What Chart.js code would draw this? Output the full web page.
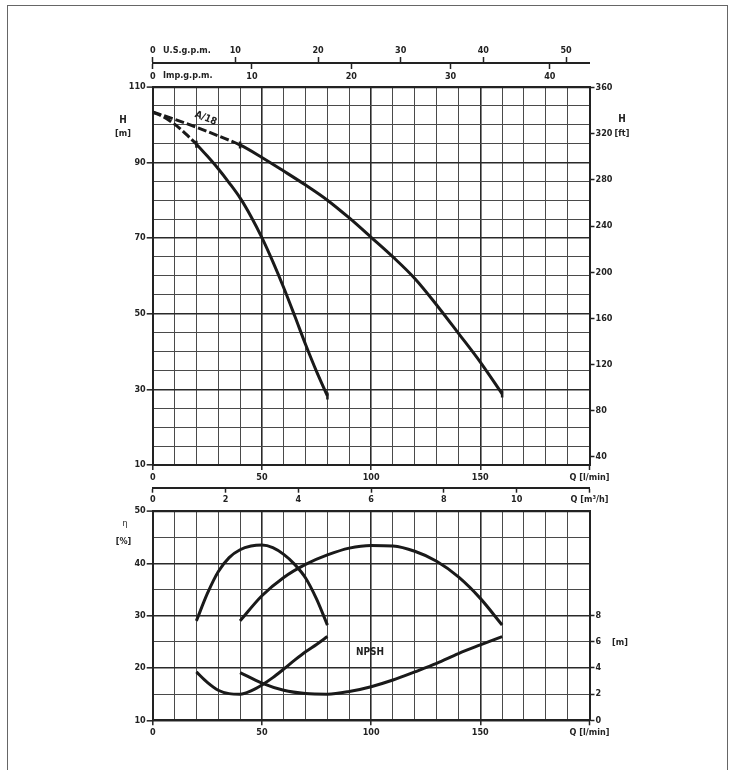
<!DOCTYPE html>
<html><head><meta charset="utf-8">
<script src="https://cdn.jsdelivr.net/npm/chart.js@4.4.1/dist/chart.umd.min.js"></script>
<style>
html,body{margin:0;padding:0;background:#fff;}
#wrap{position:relative;width:735px;height:770px;overflow:hidden;background:#fff;}
canvas{position:absolute;left:0;}
.t{position:absolute;font-family:'Liberation Sans Narrow','DejaVu Sans Condensed','Arial Narrow',sans-serif;font-weight:bold;font-size:9px;color:#222;white-space:nowrap;line-height:1;transform:translate(-50%,-50%);}
.l{transform:translate(0,-50%);}
#frame{position:absolute;left:7px;top:5px;width:721px;height:770px;border:1px solid #666;box-sizing:border-box;}
</style></head>
<body><div id="wrap">
<div id="frame"></div>
<canvas id="cGpm" width="735" height="60" style="top:30px"></canvas>
<canvas id="cH" width="735" height="420" style="top:70px"></canvas>
<canvas id="cM3" width="735" height="40" style="top:470px"></canvas>
<canvas id="cEta" width="735" height="260" style="top:500px"></canvas>
<div class="t l" style="left:163px;top:50px">U.S.g.p.m.</div>
<div class="t l" style="left:163px;top:75px">Imp.g.p.m.</div>
<div class="t" style="left:123px;top:120px;font-size:10px">H</div>
<div class="t" style="left:123px;top:133px">[m]</div>
<div class="t" style="left:622px;top:119px;font-size:10px">H</div>
<div class="t" style="left:622px;top:133px">[ft]</div>
<div class="t" style="left:125px;top:523px;font-weight:normal">η</div>
<div class="t" style="left:123.5px;top:541px">[%]</div>
<div class="t" style="left:620px;top:642px">[m]</div>
<div class="t" style="left:370px;top:652px;font-size:10px">NPSH</div>
<div class="t" style="left:206px;top:118px;font-size:10px;transform:translate(-50%,-50%) rotate(22deg)">A/18</div>
</div>
<script>
// ---------- data ----------
const flowSmallH = [0, 5, 10, 15, 20, 25, 30, 35, 40, 45, 50, 55, 60, 65, 70, 75, 80];
const headSmall  = [103.3, 102.0, 100.1, 97.6, 94.8, 91.65, 88.3, 84.6, 80.6, 75.7, 70.1, 63.75, 56.85, 49.45, 41.85, 34.75, 28.25];
const flowLargeH = [0, 10, 20, 30, 40, 50, 60, 70, 80, 90, 100, 110, 120, 130, 140, 150, 160];
const headLarge  = [103.3, 101.4, 99.3, 97.0, 94.6, 91.3, 87.7, 84.0, 80.0, 75.3, 70.2, 65.0, 59.3, 52.3, 44.8, 37.2, 28.8];

const flowSmallEff = [20, 25, 30, 35, 40, 45, 50, 55, 60, 65, 70, 75, 80];
const effSmall     = [29.0, 34.2, 38.4, 41.1, 42.6, 43.3, 43.5, 43.0, 41.7, 39.8, 37.2, 33.2, 28.2];
const flowLargeEff = [40, 50, 60, 70, 80, 90, 100, 110, 120, 130, 140, 150, 160];
const effLarge     = [29.0, 33.8, 37.3, 39.8, 41.6, 42.9, 43.4, 43.3, 42.3, 40.4, 37.4, 33.3, 28.2];

const flowSmallNpsh = [20, 25, 30, 35, 40, 45, 50, 55, 60, 65, 70, 75, 80];
const npshSmall     = [3.7, 2.9, 2.3, 2.04, 2.0, 2.25, 2.7, 3.26, 3.92, 4.6, 5.24, 5.8, 6.4];
const flowLargeNpsh = [40, 50, 60, 70, 80, 90, 100, 110, 120, 130, 140, 150, 160];
const npshLarge     = [3.65, 2.85, 2.3, 2.05, 2.0, 2.2, 2.57, 3.08, 3.7, 4.35, 5.1, 5.76, 6.4];

const flowLabelTicks = [0, 50, 100, 150];
const headLabelTicks = [10, 30, 50, 70, 90, 110];
const ftTicks        = [40, 80, 120, 160, 200, 240, 280, 320, 360];
const usGpmTicks     = [0, 10, 20, 30, 40, 50];
const impGpmTicks    = [0, 10, 20, 30, 40];
const m3hTicks       = [0, 2, 4, 6, 8, 10, 12];
const effLabelTicks  = [10, 20, 30, 40, 50];
const npshTicks      = [0, 2, 4, 6, 8];

const Q_MAX = 200;
const LPM_PER_USGPM = 3.785;
const LPM_PER_IMPGPM = 4.546;
const LPM_PER_M3H = 1000 / 60;
const FT_PER_M = 3.28084;

// ---------- styling ----------
const FONT = "'Liberation Sans Narrow','DejaVu Sans Condensed','Arial Narrow',sans-serif";
Chart.defaults.font.family = FONT;
Chart.defaults.font.size = 9;
Chart.defaults.font.weight = 'bold';
Chart.defaults.color = '#222';
Chart.defaults.animation = false;

const INK = '#1a1a1a';
const tickFont = {family: FONT, size: 9, weight: 'bold'};
const fixW = w => s => { s.width = w; };
const fixH = h => s => { s.height = h; };
const toXY = (xs, ys) => xs.map((x, i) => ({x: x, y: ys[i]}));
const setTicks = arr => s => { s.ticks = arr.map(v => ({value: v})); };
const tv = ctx => (ctx.tick ? Math.round(ctx.tick.value * 1000) / 1000 : NaN);

const commonPlugins = {legend: {display: false}, tooltip: {enabled: false}};

function curve(xs, ys, yAxisID, dashBelow, markAt) {
  const last = xs.length - 1;
  return {
    data: toXY(xs, ys),
    yAxisID: yAxisID,
    showLine: true,
    borderColor: INK,
    borderWidth: 3,
    cubicInterpolationMode: 'monotone',
    segment: dashBelow ? {borderDash: c => (c.p1.parsed.x <= dashBelow + 0.001 ? [9, 3] : undefined)} : {},
    pointStyle: 'line',
    rotation: 90,
    pointBorderColor: INK,
    pointBorderWidth: 2.5,
    pointRadius: c => (markAt !== null && (c.dataIndex === last || xs[c.dataIndex] === markAt)) ? 3.5 : 0,
    pointHoverRadius: 0
  };
}

function flowAxis() {
  return {
    type: 'linear', position: 'bottom', min: 0, max: Q_MAX,
    ticks: {stepSize: 10, autoSkip: false, maxRotation: 0, padding: 2, font: tickFont,
      callback: v => (v === Q_MAX ? 'Q [l/min]' : (flowLabelTicks.includes(v) ? String(v) : ''))},
    grid: {
      color: c => (flowLabelTicks.includes(tv(c)) ? '#2a2a2a' : '#4a4a4a'),
      lineWidth: c => (flowLabelTicks.includes(tv(c)) ? 1.6 : 1),
      tickColor: c => ((flowLabelTicks.includes(tv(c)) || tv(c) === Q_MAX) ? '#222' : 'rgba(0,0,0,0)'),
      tickLength: 5, tickWidth: 1.5
    },
    border: {display: true, width: 2, color: '#222'},
    afterFit: fixH(20)
  };
}

// ---------- gpm strip ----------
new Chart(document.getElementById('cGpm'), {
  type: 'scatter',
  data: {datasets: []},
  options: {
    responsive: false, animation: false,
    layout: {padding: {left: 152.7, right: 145.5, top: 10, bottom: 6}},
    plugins: commonPlugins,
    scales: {
      y: {display: false, min: 0, max: 1},
      us: {type: 'linear', axis: 'x', position: 'top', min: 0, max: Q_MAX / LPM_PER_USGPM,
        afterBuildTicks: setTicks(usGpmTicks),
        ticks: {autoSkip: false, maxRotation: 0, padding: 1, font: tickFont},
        grid: {drawOnChartArea: false, drawTicks: true, tickLength: 6, tickWidth: 1.5, tickColor: '#222'},
        border: {display: true, width: 2, color: '#222'},
        afterFit: fixH(23)},
      imp: {type: 'linear', axis: 'x', position: 'bottom', min: 0, max: Q_MAX / LPM_PER_IMPGPM,
        afterBuildTicks: setTicks(impGpmTicks),
        ticks: {autoSkip: false, maxRotation: 0, padding: 2, font: tickFont},
        grid: {drawOnChartArea: false, drawTicks: true, tickLength: 5, tickWidth: 1.5, tickColor: '#222'},
        border: {display: false},
        afterFit: fixH(20)}
    }
  }
});

// ---------- H chart ----------
new Chart(document.getElementById('cH'), {
  type: 'scatter',
  data: {datasets: [
    curve(flowSmallH, headSmall, 'y', 20, 20),
    curve(flowLargeH, headLarge, 'y', 40, 40)
  ]},
  options: {
    responsive: false, animation: false,
    layout: {padding: {left: 112.7, right: 105.5, top: 16.7, bottom: 5}},
    plugins: commonPlugins,
    scales: {
      x: flowAxis(),
      y: {type: 'linear', position: 'left', min: 10, max: 110,
        ticks: {stepSize: 5, autoSkip: false, padding: 1, font: tickFont,
          callback: v => (headLabelTicks.includes(v) ? String(v) : '')},
        grid: {
          color: c => (tv(c) === 110 ? '#222' : (headLabelTicks.includes(tv(c)) ? '#2a2a2a' : '#4a4a4a')),
          lineWidth: c => (tv(c) === 110 ? 2.2 : (headLabelTicks.includes(tv(c)) ? 1.6 : 1)),
          tickColor: c => (headLabelTicks.includes(tv(c)) ? '#222' : 'rgba(0,0,0,0)'),
          tickLength: 6, tickWidth: 1.5
        },
        border: {display: true, width: 2, color: '#222'},
        afterFit: fixW(40)},
      ft: {type: 'linear', position: 'right', min: 10 * FT_PER_M, max: 110 * FT_PER_M,
        afterBuildTicks: setTicks(ftTicks),
        ticks: {autoSkip: false, padding: 1, font: tickFont},
        grid: {drawOnChartArea: false, tickLength: 5, tickWidth: 1.5, tickColor: '#222'},
        border: {display: true, width: 2, color: '#222'},
        afterFit: fixW(40)}
    }
  }
});

// ---------- m3/h strip ----------
new Chart(document.getElementById('cM3'), {
  type: 'scatter',
  data: {datasets: []},
  options: {
    responsive: false, animation: false,
    layout: {padding: {left: 152.7, right: 145.5, top: 16.7, bottom: 4.3}},
    plugins: commonPlugins,
    scales: {
      y: {display: false, min: 0, max: 1},
      m3: {type: 'linear', axis: 'x', position: 'bottom', min: 0, max: Q_MAX / LPM_PER_M3H,
        afterBuildTicks: setTicks(m3hTicks),
        ticks: {autoSkip: false, maxRotation: 0, padding: 2, font: tickFont,
          callback: v => (Math.round(v) === 12 ? 'Q [m³/h]' : String(v))},
        grid: {drawOnChartArea: false, drawTicks: true, tickLength: 5, tickWidth: 1.5, tickColor: '#222'},
        border: {display: true, width: 2, color: '#222'},
        afterFit: fixH(18)}
    }
  }
});

// ---------- efficiency / NPSH chart ----------
new Chart(document.getElementById('cEta'), {
  type: 'scatter',
  data: {datasets: [
    curve(flowSmallEff, effSmall, 'y', 0, null),
    curve(flowLargeEff, effLarge, 'y', 0, null),
    curve(flowSmallNpsh, npshSmall, 'npsh', 0, null),
    curve(flowLargeNpsh, npshLarge, 'npsh', 0, null)
  ]},
  options: {
    responsive: false, animation: false,
    layout: {padding: {left: 112.7, right: 105.5, top: 11, bottom: 19.7}},
    plugins: commonPlugins,
    scales: {
      x: flowAxis(),
      y: {type: 'linear', position: 'left', min: 10, max: 50,
        ticks: {stepSize: 5, autoSkip: false, padding: 1, font: tickFont,
          callback: v => (effLabelTicks.includes(v) ? String(v) : '')},
        grid: {
          color: c => (tv(c) === 50 ? '#222' : (effLabelTicks.includes(tv(c)) ? '#2a2a2a' : '#4a4a4a')),
          lineWidth: c => (tv(c) === 50 ? 2.2 : (effLabelTicks.includes(tv(c)) ? 1.6 : 1)),
          tickColor: c => (effLabelTicks.includes(tv(c)) ? '#222' : 'rgba(0,0,0,0)'),
          tickLength: 6, tickWidth: 1.5
        },
        border: {display: true, width: 2, color: '#222'},
        afterFit: fixW(40)},
      npsh: {type: 'linear', position: 'right', min: 0, max: 16,
        afterBuildTicks: setTicks(npshTicks),
        ticks: {autoSkip: false, padding: 1, font: tickFont},
        grid: {drawOnChartArea: false, tickLength: 5, tickWidth: 1.5, tickColor: '#222'},
        border: {display: true, width: 2, color: '#222'},
        afterFit: fixW(40)}
    }
  }
});
</script>
</body></html>
